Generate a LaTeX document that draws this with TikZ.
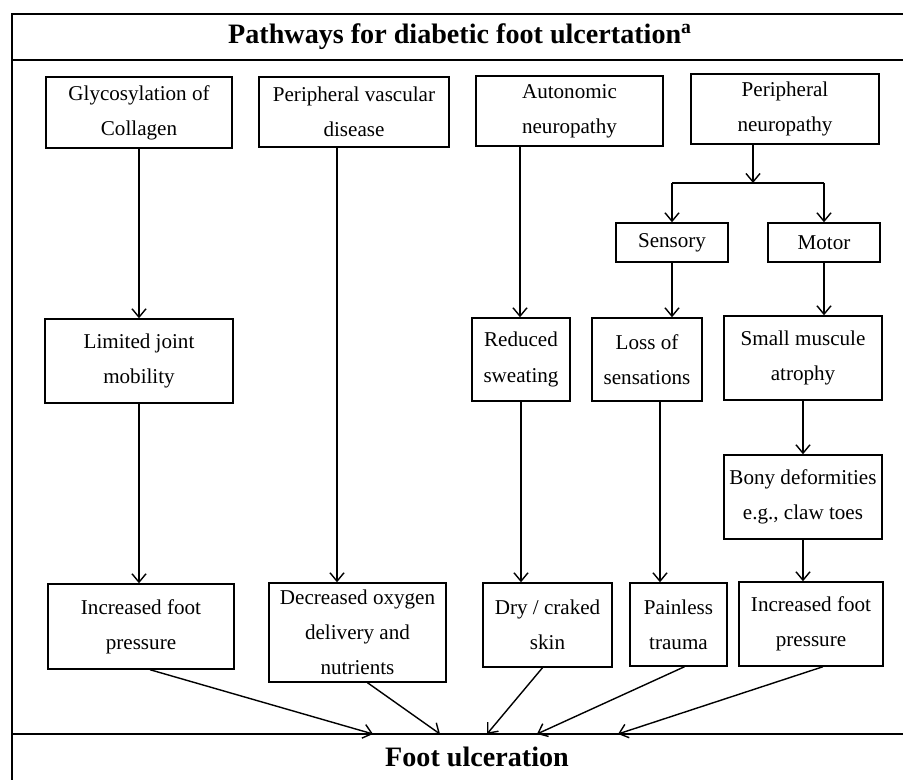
\documentclass[tikz,border=0pt]{standalone}
\usepackage{fontspec}
\setmainfont{Liberation Serif}
\usepackage{tikz}
\usetikzlibrary{arrows.meta,positioning,calc}

\begin{document}
\begin{tikzpicture}[
  x=0.025cm, y=-0.025cm,
  box/.style={draw, line width=1pt, align=center, inner sep=2pt,
    font=\fontsize{15}{25}\selectfont},
  band/.style={font=\bfseries\fontsize{20}{24}\selectfont},
  frame/.style={line width=1.6pt},
  >={Straight Barb[length=6pt,width=10pt]}, line width=1pt
]
\useasboundingbox (0,0) rectangle (903,780);
\clip (0,0) rectangle (903,780);

% Frame and bands
\draw[frame] (12,800) |- (920,14);
\draw[frame] (12,60) -- (920,60);
\draw[frame] (12,734) -- (920,734);
\node[band] (title) at (460,37)
  {Pathways for diabetic foot ulcertation\textsuperscript{a}};
\node[band] (ulcer) at (477,757) {Foot ulceration};

% Causes
\node[box, minimum width=4.65cm, minimum height=1.775cm] (glyco) at (139,112.5)
  {Glycosylation of\\Collagen};
\node[box, minimum width=4.75cm, minimum height=1.75cm] (pvd) at (354,112)
  {Peripheral vascular\\disease};
\node[box, minimum width=4.675cm, minimum height=1.75cm] (auto) at (569.5,111)
  {Autonomic\\neuropathy};
\node[box, minimum width=4.7cm, minimum height=1.75cm] (pn) at (785,109)
  {Peripheral\\neuropathy};

% Sensory and motor
\node[box, minimum width=2.8cm, minimum height=0.975cm] (sens) at (672,242.5)
  {Sensory};
\node[box, minimum width=2.8cm, minimum height=0.975cm] (mot) at (824,242.5)
  {Motor};

% Middle row
\node[box, minimum width=4.7cm, minimum height=2.1cm] (ljm) at (139,361)
  {Limited joint\\mobility};
\node[box, minimum width=2.45cm, minimum height=2.075cm] (rs) at (521,359.5)
  {Reduced\\sweating};
\node[box, minimum width=2.75cm, minimum height=2.075cm] (los) at (647,359.5)
  {Loss of\\sensations};
\node[box, minimum width=3.95cm, minimum height=2.1cm] (sma) at (803,358)
  {Small muscule\\atrophy};
\node[box, minimum width=3.95cm, minimum height=2.1cm] (bony) at (803,497)
  {Bony deformities\\e.g., claw toes};

% Bottom row
\node[box, minimum width=4.65cm, minimum height=2.125cm] (ifp1) at (141,626.5)
  {Increased foot\\pressure};
\node[box, minimum width=4.425cm, minimum height=2.475cm] (dox) at (357.5,632.5)
  {Decreased oxygen\\delivery and\\nutrients};
\node[box, minimum width=3.225cm, minimum height=2.1cm] (dry) at (547.5,625)
  {Dry / craked\\skin};
\node[box, minimum width=2.425cm, minimum height=2.075cm] (pt) at (678.5,624.5)
  {Painless\\trauma};
\node[box, minimum width=3.6cm, minimum height=2.1cm] (ifp2) at (811,624)
  {Increased foot\\pressure};

% Line positions
\coordinate (c2) at (337,0);
\coordinate (c3) at (520,0);
\coordinate (c4) at (753,0);
\coordinate (c5) at (660,0);
\coordinate (branch) at (753,183);
\coordinate (e1) at (373,734);
\coordinate (e2) at (440,734);
\coordinate (e3) at (487,734);
\coordinate (e4) at (537,734);
\coordinate (e5) at (618,734);

% Vertical arrows
\draw[->] (glyco.south) -- (glyco.south |- ljm.north);
\draw[->] (ljm.south) -- (ljm.south |- ifp1.north);
\draw[->] (pvd.south -| c2) -- (dox.north -| c2);
\draw[->] (auto.south -| c3) -- (rs.north -| c3);
\draw[->] (rs.south) -- (rs.south |- dry.north);
\draw[->] (pn.south -| c4) -- (branch);
\draw (sens.north |- branch) -- (mot.north |- branch);
\draw[->] (sens.north |- branch) -- (sens.north);
\draw[->] (mot.north |- branch) -- (mot.north);
\draw[->] (sens.south) -- (sens.south |- los.north);
\draw[->] (los.south -| c5) -- (pt.north -| c5);
\draw[->] (mot.south) -- (mot.south |- sma.north);
\draw[->] (sma.south) -- (sma.south |- bony.north);
\draw[->] (bony.south) -- (bony.south |- ifp2.north);

% Into foot ulceration
\draw[->] ($(ifp1.south)+(9,0)$) -- (e1);
\draw[->] ($(dox.south)+(10,0)$) -- (e2);
\draw[->] ($(dry.south)+(-5,0)$) -- (e3);
\draw[->] ($(pt.south)+(6,0)$) -- (e4);
\draw[->] ($(ifp2.south)+(12,0)$) -- (e5);
\end{tikzpicture}
\end{document}
